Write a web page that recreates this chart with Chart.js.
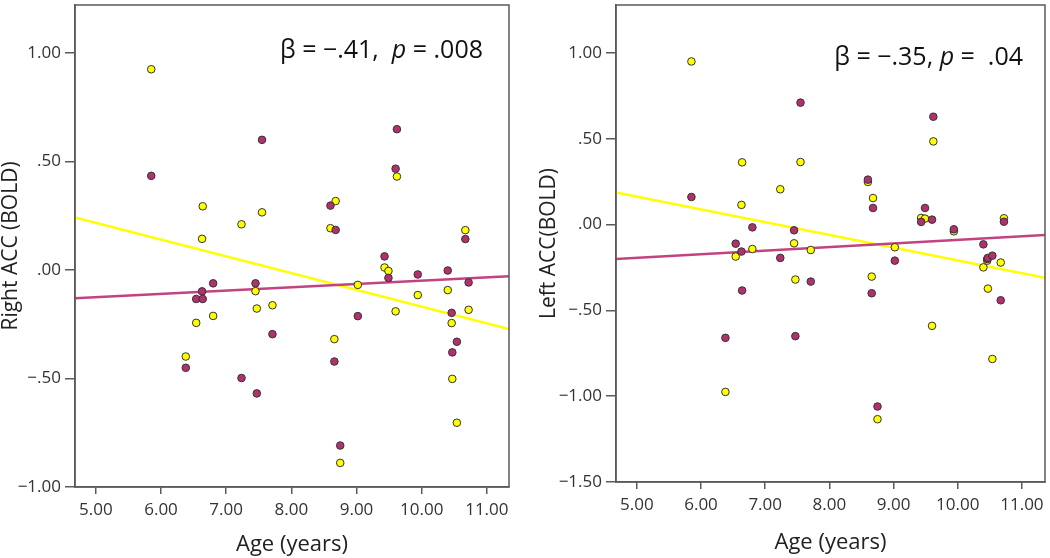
<!DOCTYPE html>
<html>
<head>
<meta charset="utf-8">
<script src="https://cdn.jsdelivr.net/npm/chart.js@4.4.1/dist/chart.umd.min.js"></script>
<style>
  body { margin: 0; background: #fff; }
  #wrap { position: relative; width: 1050px; height: 558px; }
  .panel { position: absolute; top: 0; width: 520px; height: 558px; }
</style>
</head>
<body>
<div id="wrap">
  <div class="panel" style="left:0"><canvas id="rightAccChart"></canvas></div>
  <div class="panel" style="left:530px"><canvas id="leftAccChart"></canvas></div>
</div>
<script>
// ages (years), shared by both panels
const ages = [5.85, 6.38, 6.54, 6.63, 6.64, 6.80, 7.235, 7.45, 7.47, 7.55, 7.71, 8.60, 8.66, 8.68,
  8.75, 9.02, 9.43, 9.49, 9.60, 9.62, 9.94, 10.40, 10.46, 10.47, 10.54, 10.67, 10.72];

// Right ACC (BOLD)
const rightYellow = [0.924, -0.399, -0.244, 0.143, 0.293, -0.212, 0.210, -0.098, -0.178, 0.265, -0.163,
  0.192, -0.319, 0.317, -0.889, -0.069, 0.011, -0.005, -0.191, 0.430, -0.116, -0.093, -0.245, -0.502,
  -0.704, 0.183, -0.184];
const rightPurple = [0.433, -0.451, -0.134, -0.099, -0.134, -0.062, -0.498, -0.062, -0.569, 0.599, -0.296,
  0.296, -0.422, 0.184, -0.809, -0.213, 0.062, -0.037, 0.466, 0.648, -0.021, -0.003, -0.198, -0.380,
  -0.331, 0.142, -0.058];

// Left ACC(BOLD)
const leftYellow = [0.951, -0.975, -0.186, 0.115, 0.363, -0.142, 0.206, -0.109, -0.320, 0.365, -0.148,
  0.249, -0.303, 0.155, -1.134, -0.132, 0.039, 0.035, -0.590, 0.485, -0.039, -0.249, -0.210, -0.373,
  -0.783, -0.221, 0.037];
const leftPurple = [0.161, -0.660, -0.111, -0.157, -0.384, -0.016, -0.194, -0.033, -0.650, 0.711, -0.332,
  0.262, -0.400, 0.097, -1.060, -0.210, 0.016, 0.097, 0.029, 0.629, -0.027, -0.115, -0.200, -0.194,
  -0.181, -0.441, 0.017];

// fit lines, read at the plot edges
const rightFitX = [4.68, 11.34];
const rightFitYellow = [0.241, -0.273];
const rightFitPurple = [-0.131, -0.029];
const leftFitX = [4.675, 11.36];
const leftFitYellow = [0.188, -0.310];
const leftFitPurple = [-0.200, -0.060];

const xTicks = [5, 6, 7, 8, 9, 10, 11];
const xTickLabels = ['5.00', '6.00', '7.00', '8.00', '9.00', '10.00', '11.00'];
const rightYTicks = [-1, -0.5, 0, 0.5, 1];
const rightYTickLabels = ['\u22121.00', '\u2212.50', '.00', '.50', '1.00'];
const leftYTicks = [-1.5, -1, -0.5, 0, 0.5, 1];
const leftYTickLabels = ['\u22121.50', '\u22121.00', '\u2212.50', '.00', '.50', '1.00'];

const rightStats = ['\u03b2 = \u2212.41,  ', 'p', ' = .008'];
const leftStats = ['\u03b2 = \u2212.35, ', 'p', ' =  .04'];

const FONT = '"Open Sans", Lato, sans-serif';
const YELLOW = '#ffff00';
const PURPLE = '#b3306f';
const LINE_PURPLE = '#c2437f';
const AXIS = '#5a5a5a';

function pts(xs, ys) {
  return xs.map((x, i) => ({ x: x, y: ys[i] }));
}

const boxPlugin = {
  id: 'box',
  afterDraw(chart, args, opts) {
    const a = chart.chartArea;
    const ctx = chart.ctx;
    ctx.save();
    ctx.strokeStyle = AXIS;
    ctx.lineWidth = 1.5;
    ctx.strokeRect(a.left, a.top, a.right - a.left, a.bottom - a.top);

    const fonts = ['25px ' + FONT, 'italic 25px ' + FONT, '25px ' + FONT];
    let total = 0;
    const widths = opts.text.map((t, i) => {
      ctx.font = fonts[i];
      const w = ctx.measureText(t).width;
      total += w;
      return w;
    });
    let x = a.right - opts.rightGap - total;
    ctx.fillStyle = '#111';
    ctx.textBaseline = 'alphabetic';
    ctx.textAlign = 'left';
    opts.text.forEach((t, i) => {
      ctx.font = fonts[i];
      ctx.fillText(t, x, opts.baseline);
      x += widths[i];
    });
    ctx.restore();
  }
};

function makePanel(id, p) {
  new Chart(document.getElementById(id), {
    type: 'scatter',
    data: {
      datasets: [
        {
          data: pts(ages, p.yellow), backgroundColor: YELLOW, borderColor: '#333',
          pointRadius: 3.8, pointBorderWidth: 1, order: 1
        },
        {
          data: pts(ages, p.purple), backgroundColor: PURPLE, borderColor: '#333',
          pointRadius: 3.8, pointBorderWidth: 1, order: 0
        },
        {
          type: 'line', data: pts(p.fitX, p.fitYellow), borderColor: YELLOW, borderWidth: 2.5,
          pointRadius: 0, fill: false, order: 3
        },
        {
          type: 'line', data: pts(p.fitX, p.fitPurple), borderColor: LINE_PURPLE, borderWidth: 2.5,
          pointRadius: 0, fill: false, order: 2
        }
      ]
    },
    options: {
      responsive: true,
      maintainAspectRatio: false,
      animation: false,
      layout: { padding: { top: p.top, right: p.right, left: 0, bottom: 0 } },
      plugins: {
        legend: { display: false },
        tooltip: { enabled: false },
        box: { text: p.stats, rightGap: p.statsGap, baseline: p.statsBaseline }
      },
      scales: {
        x: {
          type: 'linear', min: p.fitX[0], max: p.fitX[1],
          afterBuildTicks: s => { s.ticks = xTicks.map(v => ({ value: v })); },
          afterFit: s => { s.height = p.xHeight; s.paddingLeft = 0; s.paddingRight = 0; },
          border: { display: true, color: AXIS, width: 1.5 },
          grid: { drawOnChartArea: false, drawTicks: true, tickLength: 7, color: AXIS, lineWidth: 1.5 },
          ticks: {
            padding: 6, color: '#333', font: { family: FONT, size: 17 },
            maxRotation: 0, autoSkip: false,
            callback: v => xTickLabels[xTicks.indexOf(v)]
          },
          title: {
            display: true, text: 'Age (years)', color: '#222',
            font: { family: FONT, size: 22, lineHeight: 1 }, padding: { top: 0, bottom: p.xTitlePad }
          }
        },
        y: {
          type: 'linear', min: p.yMin, max: p.yMax,
          afterBuildTicks: s => { s.ticks = p.yTicks.map(v => ({ value: v })); },
          afterFit: s => { s.width = p.yWidth; s.paddingTop = 0; s.paddingBottom = 0; },
          border: { display: true, color: AXIS, width: 1.5 },
          grid: { drawOnChartArea: false, drawTicks: true, tickLength: 10, color: AXIS, lineWidth: 1.5 },
          ticks: {
            padding: 4, color: '#333', font: { family: FONT, size: 17 },
            callback: v => p.yTickLabels[p.yTicks.indexOf(v)]
          },
          title: {
            display: true, text: p.yTitle, color: '#222',
            font: { family: FONT, size: 21, lineHeight: 1 }, padding: { top: p.yTitlePad, bottom: 0 }
          }
        }
      }
    },
    plugins: [boxPlugin]
  });
}

makePanel('rightAccChart', {
  yellow: rightYellow, purple: rightPurple,
  fitX: rightFitX, fitYellow: rightFitYellow, fitPurple: rightFitPurple,
  yMin: -1, yMax: 1.22, yTicks: rightYTicks, yTickLabels: rightYTickLabels,
  yTitle: 'Right ACC (BOLD)', stats: rightStats, statsGap: 26, statsBaseline: 58,
  top: 0, right: 11, yWidth: 75, xHeight: 71, xTitlePad: 2, yTitlePad: 1
});

makePanel('leftAccChart', {
  yellow: leftYellow, purple: leftPurple,
  fitX: leftFitX, fitYellow: leftFitYellow, fitPurple: leftFitPurple,
  yMin: -1.5, yMax: 1.28, yTicks: leftYTicks, yTickLabels: leftYTickLabels,
  yTitle: 'Left ACC(BOLD)', stats: leftStats, statsGap: 22, statsBaseline: 65,
  top: 4, right: 2, yWidth: 86, xHeight: 76, xTitlePad: 4, yTitlePad: 9
});
</script>
</body>
</html>
